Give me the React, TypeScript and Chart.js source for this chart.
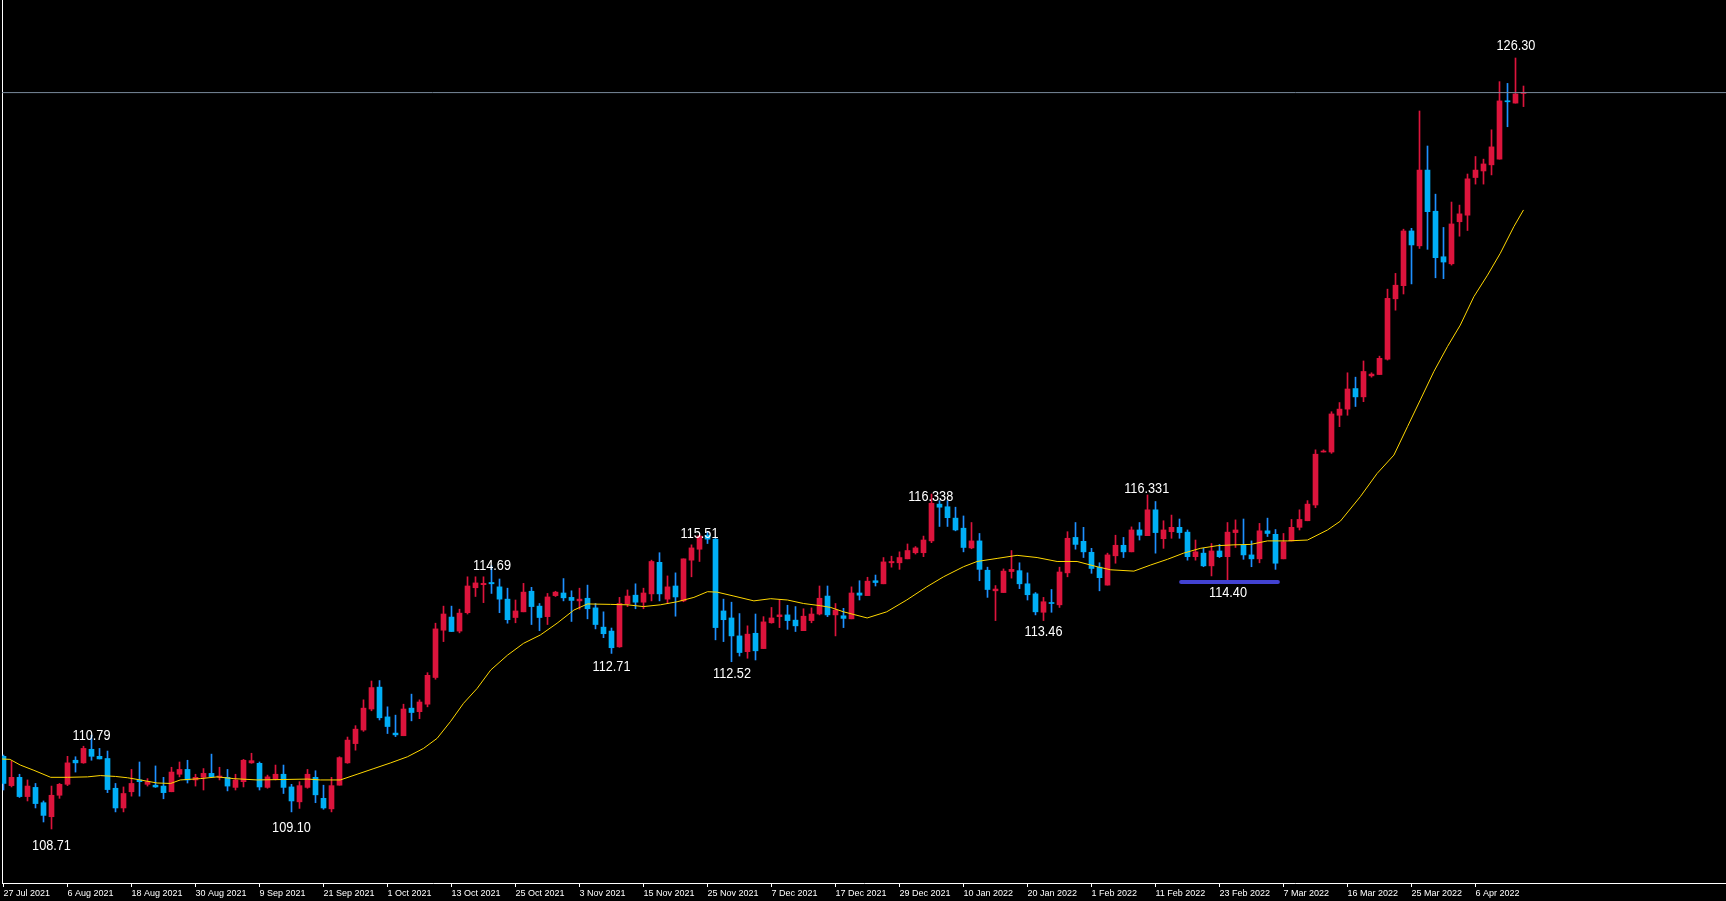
import React, { useEffect, useRef } from 'react';
import { Chart, registerables } from 'chart.js';

Chart.register(...registerables);

// Daily candles, 27 Jul 2021 .. Apr 2022 (index = bar number)
const opens = [
  110.35,109.68,109.87,109.43,109.64,109.29,108.97,109.46,109.71,110.26,
  110.20,110.51,110.35,110.30,109.62,109.17,109.54,109.81,109.71,109.69,
  109.67,109.54,109.94,110.05,109.81,109.87,109.96,109.87,109.87,109.64,
  109.77,110.20,110.19,109.64,109.83,109.94,109.65,109.31,109.64,109.87,
  109.39,109.15,109.69,110.20,110.64,110.95,111.43,111.93,111.25,110.88,
  110.82,111.45,111.37,111.54,112.15,113.23,113.53,113.21,113.63,114.20,
  114.27,114.32,114.22,113.94,113.52,113.65,114.12,113.78,113.54,114.02,
  114.08,113.98,113.90,113.96,113.74,113.30,113.21,112.85,113.83,114.03,
  113.87,114.06,114.78,113.94,114.24,113.90,114.83,115.08,115.40,115.31,
  113.67,113.51,113.10,112.74,113.16,112.81,113.40,113.54,113.58,113.46,
  113.22,113.45,113.60,114.01,113.58,113.56,113.49,114.08,114.02,114.36,
  114.29,114.77,114.77,114.86,115.00,115.00,115.27,116.11,116.05,115.79,
  115.56,115.11,115.27,114.60,114.13,114.09,114.57,114.59,114.29,114.06,
  113.64,113.85,113.81,114.54,115.35,115.26,115.01,114.67,114.26,114.93,
  115.17,115.02,115.52,115.39,115.98,115.32,115.48,115.58,115.47,114.91,
  114.99,114.70,115.04,114.91,115.46,115.17,114.95,114.86,115.50,115.42,
  114.86,115.27,115.58,115.73,116.09,117.30,117.30,118.14,118.28,118.75,
  118.56,119.04,119.07,119.42,120.80,121.10,122.35,122.01,123.74,122.80,
  121.76,121.60,122.56,122.71,123.57,123.72,123.86,123.99,125.32,125.27,125.49,
];
const highs = [
  110.38,110.24,109.94,109.81,109.73,109.33,109.67,109.73,110.35,110.34,
  110.58,110.83,110.53,110.47,109.73,109.65,110.05,110.22,109.84,110.13,
  109.87,110.10,110.22,110.26,109.94,110.07,110.40,110.10,110.05,109.94,
  110.28,110.42,110.22,109.92,110.15,110.15,109.71,109.77,110.05,110.02,
  109.69,109.87,110.34,110.79,111.05,111.64,112.07,112.08,111.48,111.29,
  111.54,111.77,111.64,112.26,113.39,113.78,113.78,113.71,114.45,114.45,
  114.45,114.70,114.40,114.19,113.92,114.30,114.21,113.84,114.07,114.12,
  114.41,114.13,114.19,114.26,113.84,113.65,113.28,113.98,114.15,114.29,
  114.19,114.83,115.00,114.47,114.54,114.86,115.18,115.40,115.48,115.34,
  113.94,113.87,113.61,113.33,113.60,113.54,113.75,113.93,113.80,113.77,
  113.72,113.74,114.24,114.24,113.84,113.73,114.22,114.36,114.44,114.49,
  114.89,114.92,115.02,115.20,115.14,115.38,116.34,116.19,116.19,116.04,
  115.84,115.69,115.44,114.67,114.25,114.63,115.05,114.77,114.54,114.09,
  113.98,114.16,114.67,115.48,115.69,115.58,115.10,114.77,114.99,115.40,
  115.35,115.59,115.69,116.32,116.17,115.73,115.86,115.77,115.52,115.29,
  115.10,115.21,115.19,115.69,115.75,115.77,115.27,115.67,115.79,115.53,
  115.44,115.76,115.98,116.19,117.35,117.35,118.22,118.43,119.11,119.01,
  119.38,119.11,119.49,121.02,121.38,122.39,122.41,125.09,124.29,123.19,
  122.43,123.01,122.94,123.65,124.05,123.99,124.66,125.76,125.72,126.30,125.66,
];
const lows = [
  109.58,109.65,109.41,109.33,109.17,108.85,108.69,109.39,109.68,109.99,
  110.19,110.26,110.29,109.52,109.08,109.08,109.44,109.44,109.67,109.64,
  109.38,109.54,109.88,109.74,109.67,109.58,109.88,109.81,109.56,109.58,
  109.65,110.19,109.58,109.62,109.81,109.50,109.08,109.16,109.62,109.29,
  109.14,109.08,109.69,110.19,110.49,110.92,111.39,111.18,110.87,110.80,
  110.82,111.16,111.21,111.48,112.11,112.97,113.20,113.17,113.60,114.00,
  113.86,114.07,113.63,113.39,113.40,113.65,113.36,113.22,113.36,114.00,
  113.90,113.43,113.71,113.49,113.26,113.06,112.70,112.84,113.77,113.72,
  113.72,113.90,113.90,113.84,113.55,113.88,114.45,114.80,115.21,113.01,
  112.97,112.51,112.64,112.59,112.55,112.81,113.39,113.29,113.25,113.20,
  113.22,113.40,113.58,113.54,113.10,113.29,113.49,113.92,114.02,114.24,
  114.29,114.67,114.62,114.86,114.97,114.91,115.23,115.60,115.60,115.50,
  115.02,115.09,114.36,113.98,113.45,114.09,114.42,114.18,113.92,113.58,
  113.45,113.64,113.75,114.45,115.08,114.89,114.53,114.13,114.26,114.76,
  114.89,115.02,115.29,115.39,114.99,115.10,115.33,115.33,114.83,114.83,
  114.68,114.47,114.89,114.38,115.12,114.85,114.68,114.77,115.37,114.62,
  114.86,115.27,115.52,115.73,116.03,117.30,117.27,117.88,118.14,118.34,
  118.45,119.01,119.07,119.40,120.54,120.91,121.14,121.95,121.93,121.28,
  121.26,121.57,122.23,122.36,123.42,123.42,123.63,123.99,124.73,125.27,125.19,
];
const closes = [
  109.73,109.87,109.43,109.67,109.27,109.00,109.46,109.71,110.20,110.20,
  110.53,110.35,110.29,109.59,109.17,109.50,109.73,109.77,109.77,109.65,
  109.52,109.99,110.05,109.81,109.87,109.96,109.88,109.90,109.67,109.81,
  110.26,110.25,109.65,109.88,109.94,109.64,109.33,109.68,109.94,109.47,
  109.17,109.68,110.32,110.72,110.97,111.45,111.92,111.23,111.03,110.84,
  111.43,111.35,111.59,112.20,113.26,113.60,113.20,113.62,114.24,114.31,
  114.30,114.29,113.94,113.47,113.67,114.10,113.77,113.52,113.99,114.10,
  113.97,113.91,113.94,113.72,113.36,113.15,112.83,113.84,114.01,113.87,
  114.08,114.80,114.06,114.22,113.99,114.86,115.11,115.38,115.31,113.29,
  113.47,113.10,112.72,113.14,112.76,113.42,113.51,113.58,113.45,113.33,
  113.55,113.60,113.96,113.58,113.69,113.50,114.08,114.03,114.35,114.32,
  114.79,114.80,114.89,115.05,115.11,115.29,116.13,116.04,115.80,115.52,
  115.12,115.27,114.62,114.16,114.17,114.58,114.62,114.29,114.04,113.65,
  113.88,113.84,114.56,115.33,115.19,115.02,114.64,114.43,114.95,115.17,
  115.02,115.52,115.40,115.98,115.46,115.52,115.58,115.46,114.91,115.02,
  114.70,115.04,114.91,115.47,115.52,114.95,114.86,115.50,115.44,114.76,
  115.25,115.58,115.76,116.11,117.25,117.32,118.17,118.28,118.74,118.56,
  119.14,119.08,119.44,120.81,121.11,122.35,122.03,123.74,122.79,121.74,
  121.64,122.51,122.74,123.54,123.74,123.88,124.27,125.32,125.30,125.48,125.51,
];

// Moving average line, read at bar positions
const maIndex = [
  -0.4, 0.8, 2.1, 3.8, 5.9, 8.0, 10.5, 12.1, 14.0, 15.5, 17.1, 19.2, 20.9, 22.1, 24.6, 26.7, 28.8,
  31.7, 35.0, 38.0, 39.6, 42.1, 44.2, 46.3, 48.4, 50.5, 52.5, 54.2, 55.9, 57.5, 59.2, 60.9, 63.0,
  65.0, 67.1, 69.2, 71.3, 73.0, 75.9, 78.0, 80.0, 82.1, 84.2, 86.3, 88.0, 89.2, 91.3, 93.8, 95.9,
  98.0, 100.0, 102.1, 103.4, 105.0, 107.96, 110.4, 112.9, 115.4, 117.5, 120.0, 121.7, 124.2, 126.7,
  129.2, 131.7, 134.2, 136.7, 138.4, 141.3, 143.4, 145.5, 147.5, 149.6, 151.7, 153.8, 155.9, 158.0,
  160.5, 163.0, 165.5, 167.1, 169.6, 171.7, 173.8, 175.5, 177.1, 178.8, 180.5, 182.1, 183.8, 185.5,
  187.1, 188.8, 190.0,
];
const maValues = [
  110.29, 110.28, 110.15, 110.03, 109.87, 109.87, 109.88, 109.91, 109.89, 109.86, 109.81, 109.74, 109.73, 109.81, 109.84, 109.88, 109.84,
  109.81, 109.82, 109.83, 109.81, 109.81, 109.94, 110.07, 110.20, 110.34, 110.53, 110.76, 111.15, 111.56, 111.90, 112.32, 112.66,
  112.93, 113.12, 113.39, 113.69, 113.83, 113.82, 113.81, 113.77, 113.81, 113.88, 113.98, 114.11, 114.10, 114.01, 113.90, 113.95,
  113.92, 113.84, 113.79, 113.75, 113.65, 113.51, 113.65, 113.92, 114.22, 114.45, 114.68, 114.80, 114.87, 114.94,
  114.89, 114.80, 114.80, 114.68, 114.61, 114.58, 114.72, 114.85, 114.99, 115.10, 115.16, 115.18, 115.19, 115.27,
  115.27, 115.29, 115.52, 115.72, 116.28, 116.81, 117.23, 117.88, 118.49, 119.14, 119.71, 120.20, 120.85, 121.34,
  121.84, 122.45, 122.83,
];

const tickIndex = [0, 8, 16, 24, 32, 40, 48, 56, 64, 72, 80, 88, 96, 104, 112, 120, 128, 136, 144, 152, 160, 168, 176, 184];
const tickLabels = [
  '27 Jul 2021', '6 Aug 2021', '18 Aug 2021', '30 Aug 2021', '9 Sep 2021', '21 Sep 2021', '1 Oct 2021',
  '13 Oct 2021', '25 Oct 2021', '3 Nov 2021', '15 Nov 2021', '25 Nov 2021', '7 Dec 2021', '17 Dec 2021',
  '29 Dec 2021', '10 Jan 2022', '20 Jan 2022', '1 Feb 2022', '11 Feb 2022', '23 Feb 2022', '7 Mar 2022',
  '16 Mar 2022', '25 Mar 2022', '6 Apr 2022',
];

const bidPrice = 125.51;
const supportPrice = 114.33;
const supportFrom = 147.2;
const supportTo = 159.3;

const labelTexts = ['108.71', '110.79', '109.10', '114.69', '112.71', '115.51', '112.52', '116.338', '113.46', '116.331', '114.40', '126.30'];
const labelIdx = [6.0, 11.0, 36.0, 61.06, 76.0, 87.0, 91.06, 115.9, 130.0, 142.9, 153.06, 189.06];
const labelPrices = [108.31, 110.83, 108.73, 114.71, 112.40, 115.43, 112.24, 116.28, 113.19, 116.46, 114.09, 126.58];

const X_MIN = -0.1875;
const X_MAX = 215.3125;
const Y_MIN = 107.456;
const Y_MAX = 127.625;

const UP = '#DC143C';
const DOWN_BODY = '#00AEF5';
const DOWN_WICK = '#1E90FF';

const labelPlugin = {
  id: 'priceLabels',
  afterDatasetsDraw(chart: any) {
    const { ctx, scales } = chart;
    ctx.save();
    ctx.fillStyle = '#FFFFFF';
    ctx.font = '15.5px "Liberation Sans", Arial, sans-serif';
    ctx.textAlign = 'center';
    ctx.textBaseline = 'middle';
    for (let i = 0; i < labelTexts.length; i++) {
      const x = scales.x.getPixelForValue(labelIdx[i]);
      const y = scales.y.getPixelForValue(labelPrices[i]);
      ctx.save();
      ctx.translate(x, y);
      ctx.scale(0.82, 1);
      ctx.fillText(labelTexts[i], 0, 0);
      ctx.restore();
    }
    ctx.restore();
  },
};

export default function App() {
  const canvasRef = useRef<HTMLCanvasElement | null>(null);

  useEffect(() => {
    document.body.style.margin = '0';
    document.body.style.background = '#000';
    const canvas = canvasRef.current;
    if (!canvas) return;
    const isUp = (i: number) => closes[i] >= opens[i];

    const chart = new Chart(canvas, {
      type: 'bar',
      data: {
        datasets: [
          {
            type: 'line',
            label: 'bid',
            data: [{ x: X_MIN - 1, y: bidPrice }, { x: X_MAX + 1, y: bidPrice }],
            borderColor: '#7A8A9C',
            borderWidth: 1,
            pointRadius: 0,
            order: -2,
          } as any,
          {
            type: 'line',
            label: 'MA',
            data: maIndex.map((x, i) => ({ x, y: maValues[i] })),
            borderColor: '#FFD700',
            borderWidth: 1,
            pointRadius: 0,
            tension: 0,
            order: -1,
          } as any,
          {
            type: 'line',
            label: 'support',
            data: [{ x: supportFrom, y: supportPrice }, { x: supportTo, y: supportPrice }],
            borderColor: '#4242D2',
            borderWidth: 4,
            borderCapStyle: 'round',
            pointRadius: 0,
            order: -3,
          } as any,
          {
            type: 'bar',
            label: 'body',
            data: opens.map((o, i) => ({ x: i, y: [o, closes[i]] })),
            backgroundColor: (c: any) => (isUp(c.dataIndex) ? UP : DOWN_BODY),
            borderWidth: 0,
            grouped: false,
            barPercentage: 1,
            categoryPercentage: 1,
            maxBarThickness: 5,
            minBarLength: 1,
            order: 0,
          } as any,
          {
            type: 'bar',
            label: 'wick',
            data: lows.map((l, i) => ({ x: i, y: [l, highs[i]] })),
            backgroundColor: (c: any) => (isUp(c.dataIndex) ? UP : DOWN_WICK),
            borderWidth: 0,
            grouped: false,
            barPercentage: 1,
            categoryPercentage: 1,
            maxBarThickness: 1,
            minBarLength: 1,
            order: 1,
          } as any,
        ],
      },
      options: {
        animation: false,
        responsive: false,
        maintainAspectRatio: false,
        events: [],
        layout: { padding: 0 },
        plugins: {
          legend: { display: false },
          tooltip: { enabled: false },
        },
        scales: {
          x: {
            type: 'linear',
            min: X_MIN,
            max: X_MAX,
            offset: false,
            afterBuildTicks: (axis: any) => {
              axis.ticks = tickIndex.map((v) => ({ value: v }));
            },
            afterFit: (axis: any) => {
              axis.height = 18;
            },
            grid: {
              display: true,
              offset: false,
              drawOnChartArea: false,
              drawTicks: true,
              tickLength: 4,
              color: '#FFFFFF',
              lineWidth: 1,
            },
            border: { display: true, color: '#FFFFFF', width: 1 },
            ticks: {
              autoSkip: false,
              maxRotation: 0,
              minRotation: 0,
              align: 'start',
              padding: 1,
              color: '#FFFFFF',
              font: { family: '"Liberation Sans", Arial, sans-serif', size: 9 },
              callback: (value: any) => {
                const k = tickIndex.indexOf(Number(value));
                return k >= 0 ? tickLabels[k] : '';
              },
            },
          },
          y: {
            type: 'linear',
            min: Y_MIN,
            max: Y_MAX,
            position: 'left',
            afterFit: (axis: any) => {
              axis.width = 2;
            },
            grid: { display: false },
            border: { display: true, color: '#FFFFFF', width: 1 },
            ticks: { display: false },
          },
        },
      } as any,
      plugins: [labelPlugin],
    });

    return () => chart.destroy();
  }, []);

  return (
    <div style={{ position: 'fixed', left: 0, top: 0, width: 1726, height: 901, background: '#000' }}>
      <canvas ref={canvasRef} width={1726} height={901} style={{ display: 'block', width: 1726, height: 901 }} />
    </div>
  );
}
